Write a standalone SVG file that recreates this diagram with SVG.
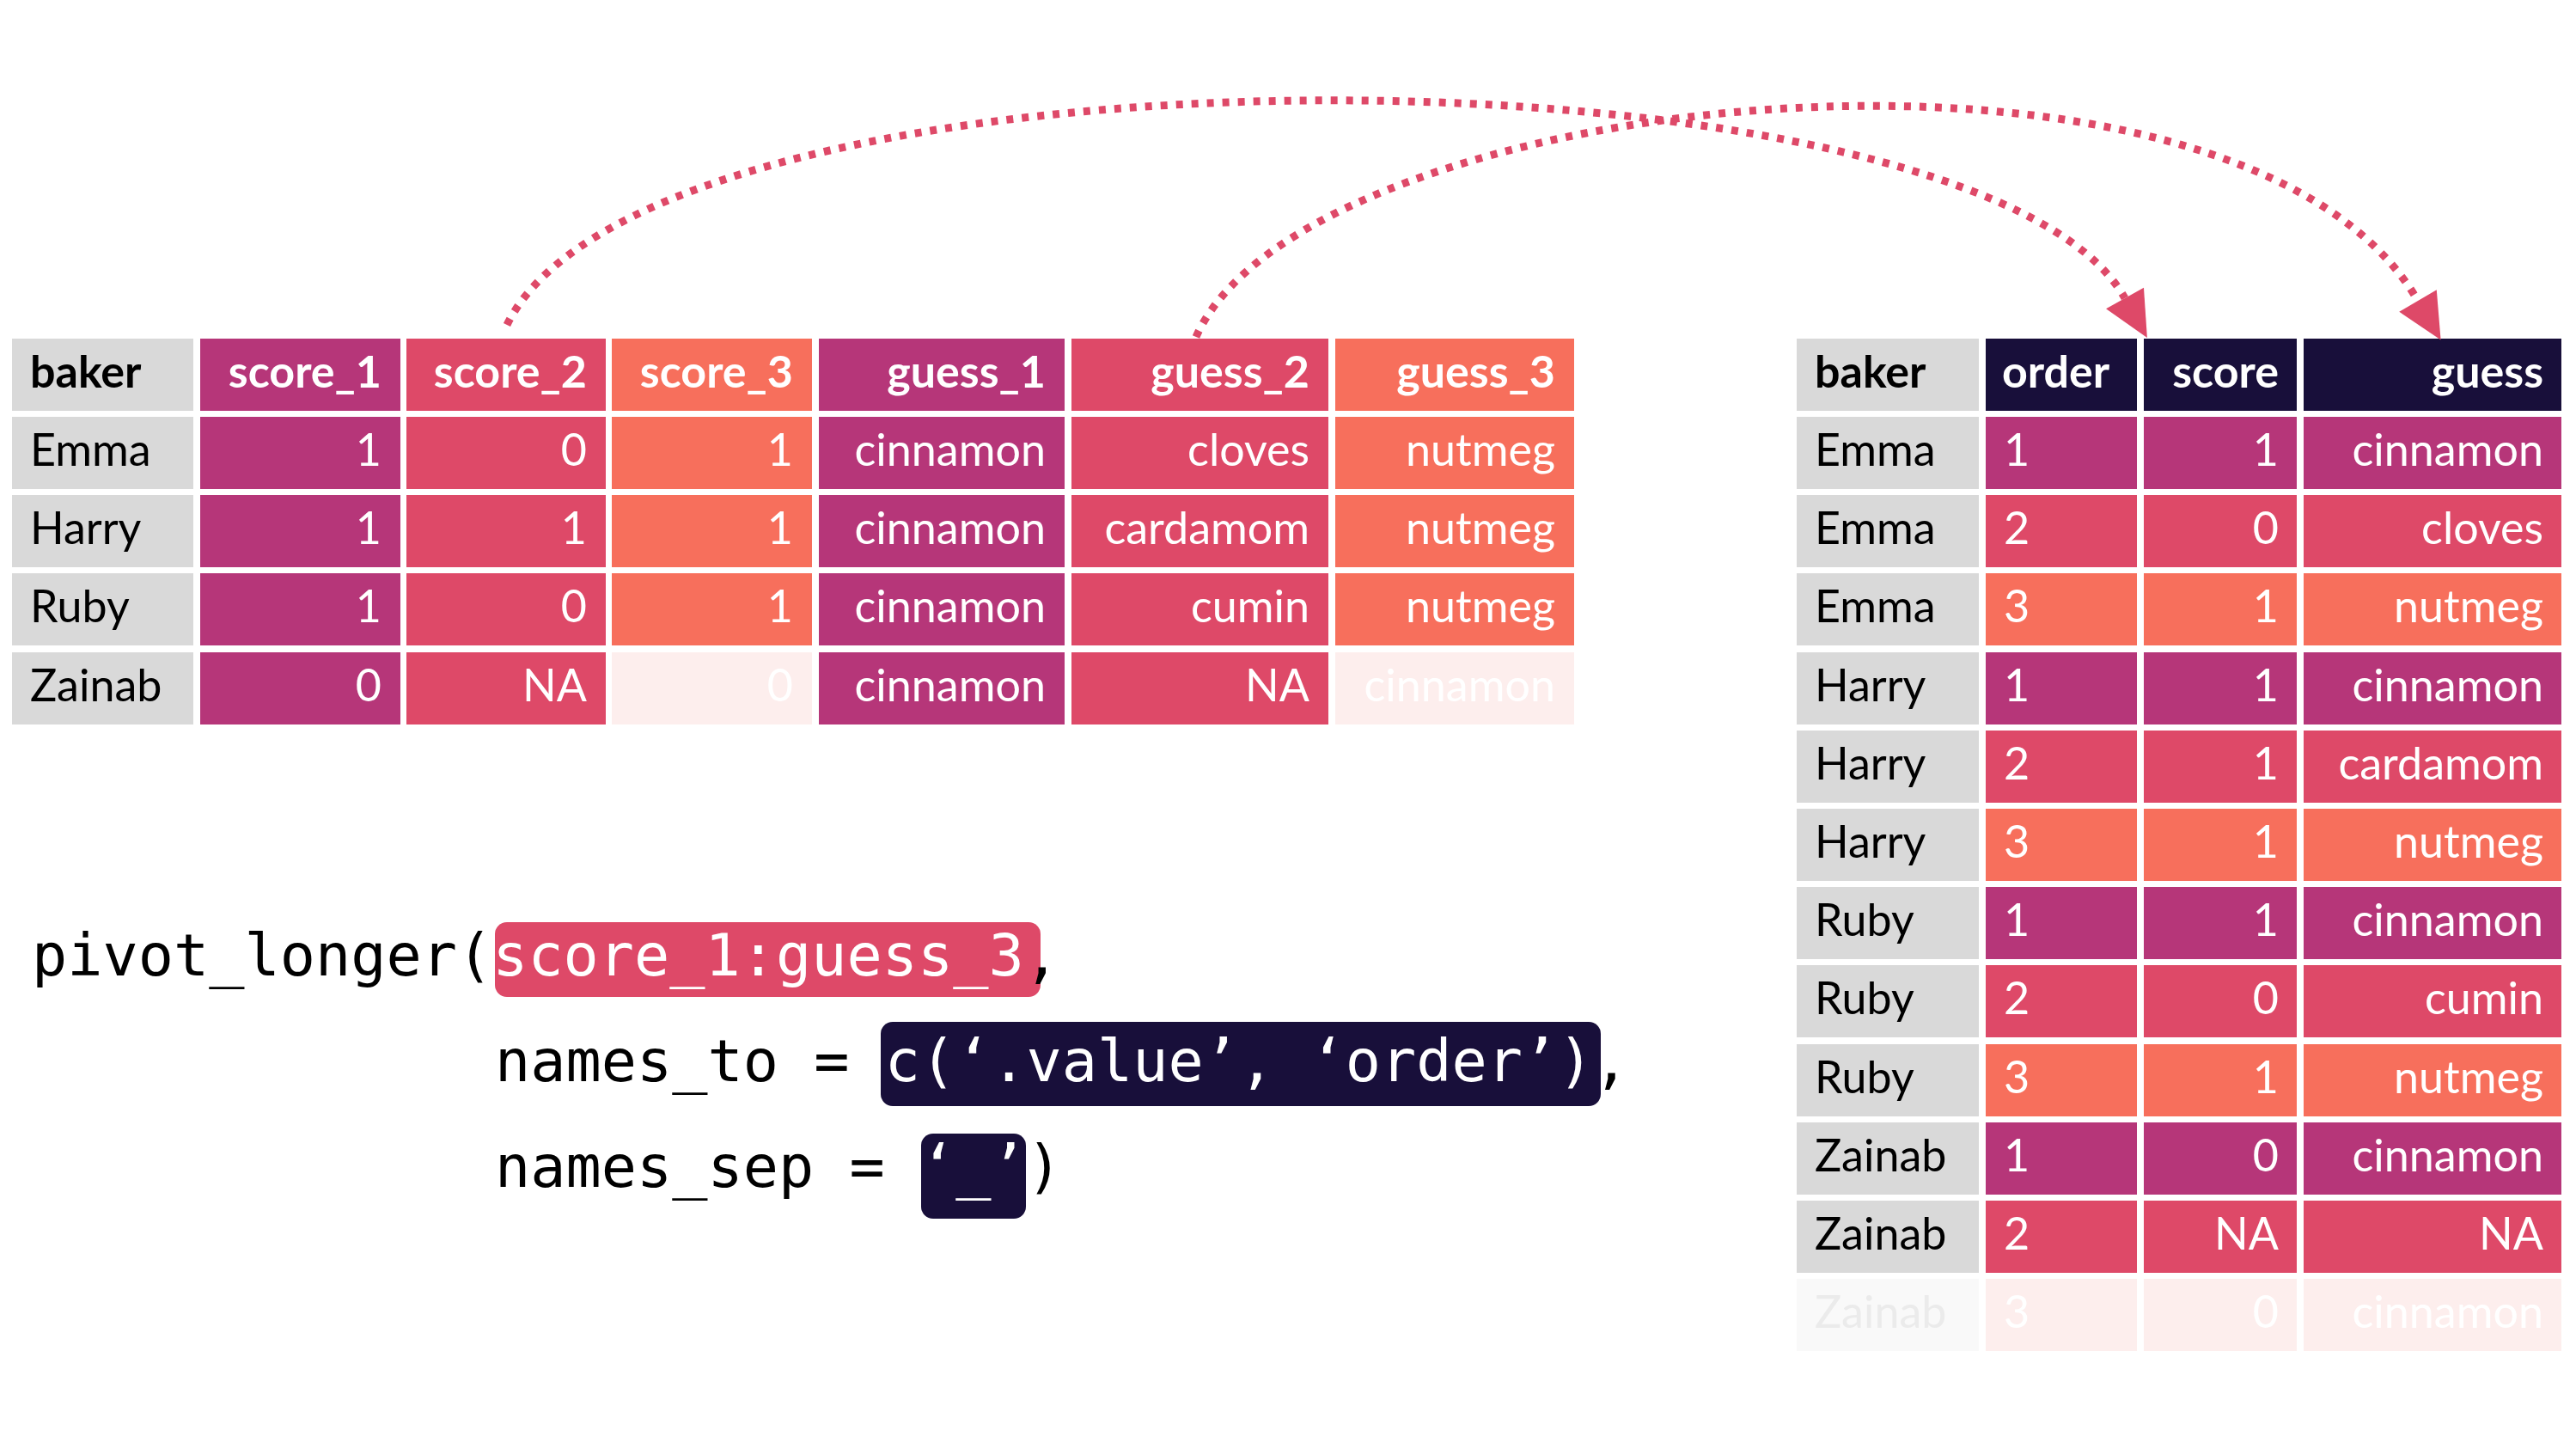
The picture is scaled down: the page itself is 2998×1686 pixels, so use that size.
<svg xmlns="http://www.w3.org/2000/svg" width="2998" height="1686" viewBox="0 0 2998 1686">
<style>
.mag{fill:#b63679}.pnk{fill:#de4968}.cor{fill:#f76f5c}.nav{fill:#180f3a}.gry{fill:#d9d9d9}.fad{fill:#fdeeed}.fadg{fill:#f9f9f9}
.t{font-family:Lato,'Liberation Sans',sans-serif;font-size:52px}
.w{fill:#ffffff}.k{fill:#000000}.lg{fill:#ebebeb}.b{font-weight:700}.r{text-anchor:end}
.code{font-family:'DejaVu Sans Mono','Liberation Mono',monospace;font-size:68.5px;fill:#000000}
.conn{fill:none;stroke:#de4968;stroke-width:9;stroke-dasharray:8 10}
</style>
<defs>
<marker id="ah" markerUnits="userSpaceOnUse" markerWidth="60" markerHeight="60" viewBox="-2 -25 50 50" refX="0" refY="0" orient="auto">
<path d="M0,-21 L44,0 L0,21 Z" fill="#de4968"/>
</marker>
</defs>
<rect width="2998" height="1686" fill="#ffffff"/>

<g id="wide-table">
<g id="wide-header">
<rect class="gry" x="14" y="394" width="211" height="84"/><text class="t k b" x="35" y="451">baker</text>
<rect class="mag" x="233" y="394" width="233" height="84"/><text class="t w b r" x="444" y="451">score_1</text>
<rect class="pnk" x="473" y="394" width="232" height="84"/><text class="t w b r" x="683" y="451">score_2</text>
<rect class="cor" x="712" y="394" width="233" height="84"/><text class="t w b r" x="923" y="451">score_3</text>
<rect class="mag" x="953" y="394" width="286" height="84"/><text class="t w b r" x="1217" y="451">guess_1</text>
<rect class="pnk" x="1247" y="394" width="299" height="84"/><text class="t w b r" x="1524" y="451">guess_2</text>
<rect class="cor" x="1554" y="394" width="278" height="84"/><text class="t w b r" x="1810" y="451">guess_3</text>
</g>
<g id="wide-emma">
<rect class="gry" x="14" y="485" width="211" height="84"/><text class="t k" x="35" y="542">Emma</text>
<rect class="mag" x="233" y="485" width="233" height="84"/><text class="t w r" x="444" y="542">1</text>
<rect class="pnk" x="473" y="485" width="232" height="84"/><text class="t w r" x="683" y="542">0</text>
<rect class="cor" x="712" y="485" width="233" height="84"/><text class="t w r" x="923" y="542">1</text>
<rect class="mag" x="953" y="485" width="286" height="84"/><text class="t w r" x="1217" y="542">cinnamon</text>
<rect class="pnk" x="1247" y="485" width="299" height="84"/><text class="t w r" x="1524" y="542">cloves</text>
<rect class="cor" x="1554" y="485" width="278" height="84"/><text class="t w r" x="1810" y="542">nutmeg</text>
</g>
<g id="wide-harry">
<rect class="gry" x="14" y="576" width="211" height="84"/><text class="t k" x="35" y="633">Harry</text>
<rect class="mag" x="233" y="576" width="233" height="84"/><text class="t w r" x="444" y="633">1</text>
<rect class="pnk" x="473" y="576" width="232" height="84"/><text class="t w r" x="683" y="633">1</text>
<rect class="cor" x="712" y="576" width="233" height="84"/><text class="t w r" x="923" y="633">1</text>
<rect class="mag" x="953" y="576" width="286" height="84"/><text class="t w r" x="1217" y="633">cinnamon</text>
<rect class="pnk" x="1247" y="576" width="299" height="84"/><text class="t w r" x="1524" y="633">cardamom</text>
<rect class="cor" x="1554" y="576" width="278" height="84"/><text class="t w r" x="1810" y="633">nutmeg</text>
</g>
<g id="wide-ruby">
<rect class="gry" x="14" y="667" width="211" height="84"/><text class="t k" x="35" y="724">Ruby</text>
<rect class="mag" x="233" y="667" width="233" height="84"/><text class="t w r" x="444" y="724">1</text>
<rect class="pnk" x="473" y="667" width="232" height="84"/><text class="t w r" x="683" y="724">0</text>
<rect class="cor" x="712" y="667" width="233" height="84"/><text class="t w r" x="923" y="724">1</text>
<rect class="mag" x="953" y="667" width="286" height="84"/><text class="t w r" x="1217" y="724">cinnamon</text>
<rect class="pnk" x="1247" y="667" width="299" height="84"/><text class="t w r" x="1524" y="724">cumin</text>
<rect class="cor" x="1554" y="667" width="278" height="84"/><text class="t w r" x="1810" y="724">nutmeg</text>
</g>
<g id="wide-zainab">
<rect class="gry" x="14" y="759" width="211" height="84"/><text class="t k" x="35" y="816">Zainab</text>
<rect class="mag" x="233" y="759" width="233" height="84"/><text class="t w r" x="444" y="816">0</text>
<rect class="pnk" x="473" y="759" width="232" height="84"/><text class="t w r" x="683" y="816">NA</text>
<rect class="fad" x="712" y="759" width="233" height="84"/><text class="t w r" x="923" y="816">0</text>
<rect class="mag" x="953" y="759" width="286" height="84"/><text class="t w r" x="1217" y="816">cinnamon</text>
<rect class="pnk" x="1247" y="759" width="299" height="84"/><text class="t w r" x="1524" y="816">NA</text>
<rect class="fad" x="1554" y="759" width="278" height="84"/><text class="t w r" x="1810" y="816">cinnamon</text>
</g>
</g>

<g id="long-table">
<g id="long-header">
<rect class="gry" x="2091" y="394" width="212" height="84"/><text class="t k b" x="2112" y="451">baker</text>
<rect class="nav" x="2311" y="394" width="176" height="84"/><text class="t w b" x="2330" y="451">order</text>
<rect class="nav" x="2495" y="394" width="178" height="84"/><text class="t w b r" x="2652" y="451">score</text>
<rect class="nav" x="2681" y="394" width="300" height="84"/><text class="t w b r" x="2960" y="451">guess</text>
</g>
<g id="long-r1">
<rect class="gry" x="2091" y="485" width="212" height="84"/><text class="t k" x="2112" y="542">Emma</text>
<rect class="mag" x="2311" y="485" width="176" height="84"/><text class="t w" x="2332" y="542">1</text>
<rect class="mag" x="2495" y="485" width="178" height="84"/><text class="t w r" x="2652" y="542">1</text>
<rect class="mag" x="2681" y="485" width="300" height="84"/><text class="t w r" x="2960" y="542">cinnamon</text>
</g>
<g id="long-r2">
<rect class="gry" x="2091" y="576" width="212" height="84"/><text class="t k" x="2112" y="633">Emma</text>
<rect class="pnk" x="2311" y="576" width="176" height="84"/><text class="t w" x="2332" y="633">2</text>
<rect class="pnk" x="2495" y="576" width="178" height="84"/><text class="t w r" x="2652" y="633">0</text>
<rect class="pnk" x="2681" y="576" width="300" height="84"/><text class="t w r" x="2960" y="633">cloves</text>
</g>
<g id="long-r3">
<rect class="gry" x="2091" y="667" width="212" height="84"/><text class="t k" x="2112" y="724">Emma</text>
<rect class="cor" x="2311" y="667" width="176" height="84"/><text class="t w" x="2332" y="724">3</text>
<rect class="cor" x="2495" y="667" width="178" height="84"/><text class="t w r" x="2652" y="724">1</text>
<rect class="cor" x="2681" y="667" width="300" height="84"/><text class="t w r" x="2960" y="724">nutmeg</text>
</g>
<g id="long-r4">
<rect class="gry" x="2091" y="759" width="212" height="84"/><text class="t k" x="2112" y="816">Harry</text>
<rect class="mag" x="2311" y="759" width="176" height="84"/><text class="t w" x="2332" y="816">1</text>
<rect class="mag" x="2495" y="759" width="178" height="84"/><text class="t w r" x="2652" y="816">1</text>
<rect class="mag" x="2681" y="759" width="300" height="84"/><text class="t w r" x="2960" y="816">cinnamon</text>
</g>
<g id="long-r5">
<rect class="gry" x="2091" y="850" width="212" height="84"/><text class="t k" x="2112" y="907">Harry</text>
<rect class="pnk" x="2311" y="850" width="176" height="84"/><text class="t w" x="2332" y="907">2</text>
<rect class="pnk" x="2495" y="850" width="178" height="84"/><text class="t w r" x="2652" y="907">1</text>
<rect class="pnk" x="2681" y="850" width="300" height="84"/><text class="t w r" x="2960" y="907">cardamom</text>
</g>
<g id="long-r6">
<rect class="gry" x="2091" y="941" width="212" height="84"/><text class="t k" x="2112" y="998">Harry</text>
<rect class="cor" x="2311" y="941" width="176" height="84"/><text class="t w" x="2332" y="998">3</text>
<rect class="cor" x="2495" y="941" width="178" height="84"/><text class="t w r" x="2652" y="998">1</text>
<rect class="cor" x="2681" y="941" width="300" height="84"/><text class="t w r" x="2960" y="998">nutmeg</text>
</g>
<g id="long-r7">
<rect class="gry" x="2091" y="1032" width="212" height="84"/><text class="t k" x="2112" y="1089">Ruby</text>
<rect class="mag" x="2311" y="1032" width="176" height="84"/><text class="t w" x="2332" y="1089">1</text>
<rect class="mag" x="2495" y="1032" width="178" height="84"/><text class="t w r" x="2652" y="1089">1</text>
<rect class="mag" x="2681" y="1032" width="300" height="84"/><text class="t w r" x="2960" y="1089">cinnamon</text>
</g>
<g id="long-r8">
<rect class="gry" x="2091" y="1123" width="212" height="84"/><text class="t k" x="2112" y="1180">Ruby</text>
<rect class="pnk" x="2311" y="1123" width="176" height="84"/><text class="t w" x="2332" y="1180">2</text>
<rect class="pnk" x="2495" y="1123" width="178" height="84"/><text class="t w r" x="2652" y="1180">0</text>
<rect class="pnk" x="2681" y="1123" width="300" height="84"/><text class="t w r" x="2960" y="1180">cumin</text>
</g>
<g id="long-r9">
<rect class="gry" x="2091" y="1215" width="212" height="84"/><text class="t k" x="2112" y="1272">Ruby</text>
<rect class="cor" x="2311" y="1215" width="176" height="84"/><text class="t w" x="2332" y="1272">3</text>
<rect class="cor" x="2495" y="1215" width="178" height="84"/><text class="t w r" x="2652" y="1272">1</text>
<rect class="cor" x="2681" y="1215" width="300" height="84"/><text class="t w r" x="2960" y="1272">nutmeg</text>
</g>
<g id="long-r10">
<rect class="gry" x="2091" y="1306" width="212" height="84"/><text class="t k" x="2112" y="1363">Zainab</text>
<rect class="mag" x="2311" y="1306" width="176" height="84"/><text class="t w" x="2332" y="1363">1</text>
<rect class="mag" x="2495" y="1306" width="178" height="84"/><text class="t w r" x="2652" y="1363">0</text>
<rect class="mag" x="2681" y="1306" width="300" height="84"/><text class="t w r" x="2960" y="1363">cinnamon</text>
</g>
<g id="long-r11">
<rect class="gry" x="2091" y="1397" width="212" height="84"/><text class="t k" x="2112" y="1454">Zainab</text>
<rect class="pnk" x="2311" y="1397" width="176" height="84"/><text class="t w" x="2332" y="1454">2</text>
<rect class="pnk" x="2495" y="1397" width="178" height="84"/><text class="t w r" x="2652" y="1454">NA</text>
<rect class="pnk" x="2681" y="1397" width="300" height="84"/><text class="t w r" x="2960" y="1454">NA</text>
</g>
<g id="long-r12">
<rect class="fadg" x="2091" y="1488" width="212" height="84"/><text class="t lg" x="2112" y="1545">Zainab</text>
<rect class="fad" x="2311" y="1488" width="176" height="84"/><text class="t w" x="2332" y="1545">3</text>
<rect class="fad" x="2495" y="1488" width="178" height="84"/><text class="t w r" x="2652" y="1545">0</text>
<rect class="fad" x="2681" y="1488" width="300" height="84"/><text class="t w r" x="2960" y="1545">cinnamon</text>
</g>
</g>

<g id="code">
<rect x="576" y="1073" width="635" height="87" rx="14" fill="#de4968"/>
<rect x="1025" y="1189" width="838" height="98" rx="14" fill="#180f3a"/>
<rect x="1072" y="1319" width="122" height="99" rx="14" fill="#180f3a"/>
<text class="code" x="37" y="1135">pivot_longer(<tspan fill="#ffffff">score_1:guess_3</tspan>,</text>
<text class="code" x="576" y="1258">names_to = <tspan fill="#ffffff">c(‘.value’, ‘order’)</tspan>,</text>
<text class="code" x="576" y="1381">names_sep = <tspan fill="#ffffff">‘_’</tspan>)</text>
</g>

<g id="connectors">
<path class="conn" d="M590,378 C760,30 2300,40 2473,347" marker-end="url(#ah)"/>
<path class="conn" d="M1392,392 C1520,100 2604,-10 2814,350" marker-end="url(#ah)"/>
</g>
</svg>
